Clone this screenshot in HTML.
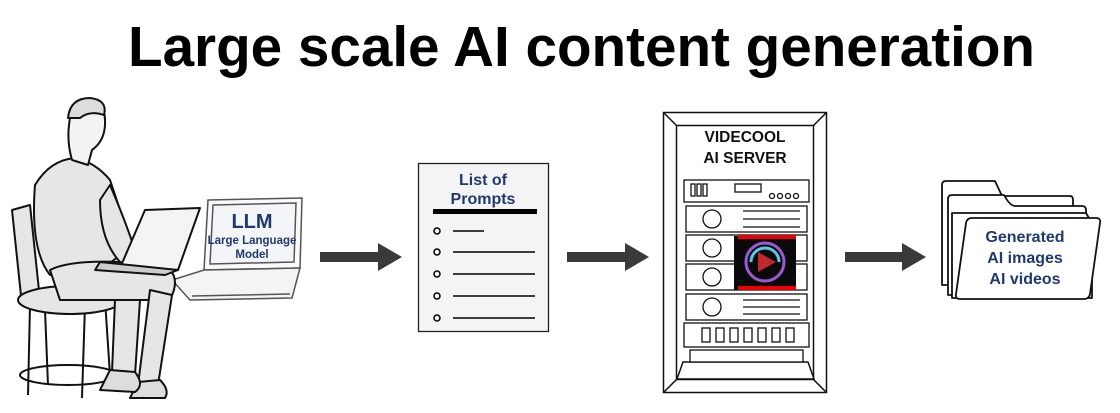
<!DOCTYPE html>
<html><head><meta charset="utf-8"><style>
html,body{margin:0;padding:0;background:#fff;width:1120px;height:413px;overflow:hidden}
text{font-family:"Liberation Sans",Arial,sans-serif}
</style></head><body>
<svg width="1120" height="413" viewBox="0 0 1120 413" xmlns="http://www.w3.org/2000/svg">
<text x="128" y="66" font-size="57" font-weight="bold" textLength="907" lengthAdjust="spacingAndGlyphs" fill="#000">Large scale AI content generation</text>

<!-- LLM laptop -->
<g stroke="#555" stroke-width="1.5" fill="#fafafa">
<path d="M208 200 L302 198 L300 268 L204 270 Z"/>
<path d="M213 205 L296 203 L294 262 L210 264 Z" fill="#f3f5f9"/>
<path d="M204 270 L300 268 L292 298 L190 300 L172 280 Z" fill="#f4f4f4"/>
<path d="M192 296 L290 294" />
</g>
<text x="252" y="228" font-size="20" font-weight="bold" fill="#1e3a6e" text-anchor="middle">LLM</text>
<text x="252" y="244" font-size="11.5" font-weight="bold" fill="#1e3a6e" text-anchor="middle">Large Language</text>
<text x="252" y="258" font-size="11.5" font-weight="bold" fill="#1e3a6e" text-anchor="middle">Model</text>

<!-- person (simplified) -->
<g stroke="#111" stroke-width="2" fill="#e6e6e6" stroke-linejoin="round">
<path d="M12 210 L30 205 L40 300 L22 305 Z"/>
<path d="M30 305 L28 395 M45 310 L48 385 M85 305 L82 398 M105 300 L110 375" fill="none"/>
<ellipse cx="68" cy="375" rx="48" ry="10" fill="none"/>
<ellipse cx="70" cy="300" rx="52" ry="14"/>
<path d="M35 185 Q50 160 75 158 Q95 162 110 180 L130 240 Q120 260 100 268 L50 275 Q30 250 35 185 Z"/>
<path d="M70 118 Q70 100 85 100 Q105 100 105 120 Q106 140 92 150 L88 165 L72 160 Q66 140 70 118 Z" fill="#f3f3f3"/>
<path d="M68 118 Q70 98 90 98 Q108 100 104 115 Q90 110 80 118 Z" fill="#ddd"/>
<path d="M50 270 Q70 260 120 262 L170 270 Q180 280 170 300 L120 300 L60 300 Z"/>
<path d="M150 290 L172 295 L158 385 L138 385 Z"/>
<path d="M115 300 L140 300 L135 375 L112 372 Z"/>
<path d="M138 382 L160 380 Q170 390 165 398 L130 398 Z" fill="#ddd"/>
<path d="M110 370 L135 372 Q145 385 135 392 L100 390 Z" fill="#ddd"/>
<path d="M110 185 Q125 220 135 250 L160 262 L150 270 L120 262 Q100 240 100 200 Z"/>
<path d="M145 210 L200 208 L178 270 L120 268 Z" fill="#f4f4f4"/>
<path d="M100 262 L178 270 L165 275 L95 270 Z" fill="#ccc"/>
</g>

<!-- arrows -->
<g fill="#3a3a3a">
<path d="M320 252 L378 252 L378 243 L402 257 L378 271 L378 262 L320 262 Z"/>
<path d="M567 252 L625 252 L625 243 L649 257 L625 271 L625 262 L567 262 Z"/>
<path d="M845 252 L902 252 L902 243 L926 257 L902 271 L902 262 L845 262 Z"/>
</g>

<!-- list of prompts -->
<rect x="418.5" y="163.5" width="130" height="168" fill="#f4f4f4" stroke="#222" stroke-width="1.3"/>
<text x="483" y="185" font-size="16" font-weight="bold" fill="#1e3a6e" text-anchor="middle">List of</text>
<text x="483" y="204" font-size="16" font-weight="bold" fill="#1e3a6e" text-anchor="middle">Prompts</text>
<rect x="433" y="209" width="104" height="5" fill="#000"/>
<g stroke="#000" stroke-width="1.5" fill="none">
<circle cx="437" cy="231" r="3"/><line x1="453" y1="231" x2="484" y2="231"/>
<circle cx="437" cy="252" r="3"/><line x1="453" y1="252" x2="535" y2="252"/>
<circle cx="437" cy="274" r="3"/><line x1="453" y1="274" x2="535" y2="274"/>
<circle cx="437" cy="296" r="3"/><line x1="453" y1="296" x2="535" y2="296"/>
<circle cx="437" cy="318" r="3"/><line x1="453" y1="318" x2="535" y2="318"/>
</g>

<!-- server rack -->
<g stroke="#111" stroke-width="1.5" fill="#fff">
<rect x="663.5" y="112.5" width="163" height="280"/>
<rect x="676.5" y="125.5" width="137" height="254"/>
<path d="M663.5 112.5 L676.5 125.5 M826.5 112.5 L813.5 125.5 M663.5 392.5 L676.5 379.5 M826.5 392.5 L813.5 379.5" fill="none"/>
<path d="M683 362 L808 362 L814 379 L677 379 Z" fill="#fff"/>
</g>
<text x="745" y="142" font-size="15.5" font-weight="bold" text-anchor="middle" fill="#111">VIDECOOL</text>
<text x="745" y="163" font-size="15.5" font-weight="bold" text-anchor="middle" fill="#111">AI SERVER</text>
<g stroke="#111" stroke-width="1.3" fill="#fff">
<rect x="684" y="180" width="125" height="22"/>
<rect x="686" y="206" width="121" height="26"/>
<rect x="686" y="235" width="121" height="26"/>
<rect x="686" y="264" width="121" height="26"/>
<rect x="686" y="294" width="121" height="26"/>
<rect x="684" y="323" width="125" height="24"/>
<rect x="690" y="350" width="113" height="12"/>
<circle cx="712" cy="219" r="9"/><circle cx="712" cy="248" r="9"/><circle cx="712" cy="277" r="9"/><circle cx="712" cy="307" r="9"/>
<rect x="702" y="328" width="8" height="14"/><rect x="716" y="328" width="8" height="14"/><rect x="730" y="328" width="8" height="14"/><rect x="744" y="328" width="8" height="14"/><rect x="758" y="328" width="8" height="14"/><rect x="772" y="328" width="8" height="14"/><rect x="786" y="328" width="8" height="14"/>
<rect x="691" y="184" width="4" height="12"/><rect x="697" y="184" width="4" height="12"/><rect x="703" y="184" width="4" height="12"/>
<rect x="735" y="184" width="26" height="8"/>
<circle cx="772" cy="196" r="2.5"/><circle cx="780" cy="196" r="2.5"/><circle cx="788" cy="196" r="2.5"/><circle cx="796" cy="196" r="2.5"/>
<line x1="743" y1="211" x2="800" y2="211"/><line x1="743" y1="219" x2="800" y2="219"/><line x1="743" y1="227" x2="800" y2="227"/>
<line x1="743" y1="300" x2="800" y2="300"/><line x1="743" y1="307" x2="800" y2="307"/><line x1="743" y1="314" x2="800" y2="314"/>
</g>
<rect x="734" y="236" width="62" height="54" fill="#0a0a0a"/>
<rect x="738" y="235" width="58" height="4" fill="#e00"/>
<rect x="738" y="286" width="58" height="4" fill="#e00"/>
<circle cx="765" cy="262" r="19" fill="none" stroke="#9b59d0" stroke-width="3"/>
<path d="M751 262 A14 14 0 0 1 779 262" fill="none" stroke="#5bc8e8" stroke-width="3"/>
<path d="M758 252 L776 262 L758 272 Z" fill="#c0282b"/>

<!-- folder -->
<g stroke="#111" stroke-width="1.8" fill="#fff" stroke-linejoin="round">
<path d="M942 185 Q942 181 946 181 L995 181 L1002 196 L1070 196 Q1073 196 1073 200 L1073 285 L942 285 Z"/>
<path d="M948 199 Q948 195 952 195 L1004 195 Q1010 206 1015 206 L1082 206 Q1086 206 1086 210 L1086 295 L948 295 Z"/>
<path d="M952 213 L1086 213 L1092 223 L1092 298 L952 298 Z"/>
<path d="M972 218 L1096 218 Q1101 218 1100 223 L1090 294 Q1089 299 1084 299 L960 299 Q955 299 956 294 L966 223 Q967 218 972 218 Z"/>
</g>
<text x="1025" y="242" font-size="16" font-weight="bold" fill="#1e3a6e" text-anchor="middle">Generated</text>
<text x="1025" y="263" font-size="16" font-weight="bold" fill="#1e3a6e" text-anchor="middle">AI images</text>
<text x="1025" y="284" font-size="16" font-weight="bold" fill="#1e3a6e" text-anchor="middle">AI videos</text>
</svg>
</body></html>
